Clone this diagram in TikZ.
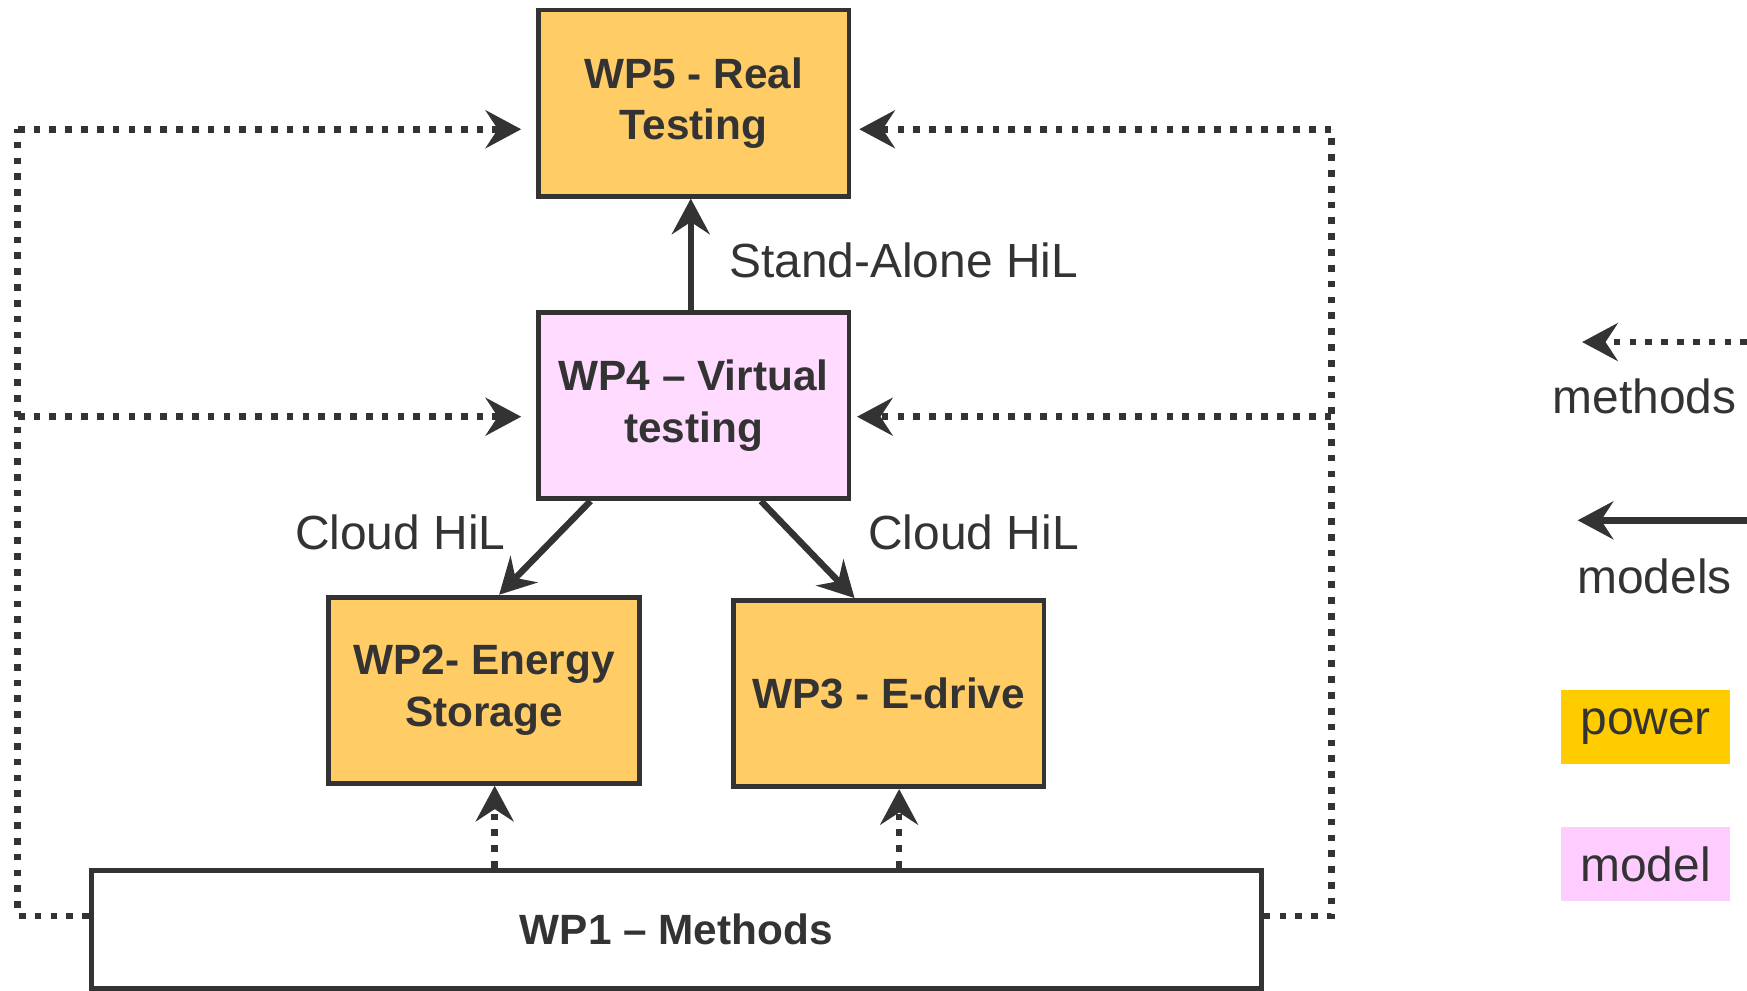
\documentclass[tikz,border=0pt]{standalone}
\usepackage{fontspec}
\setmainfont{Liberation Sans}
\usetikzlibrary{arrows.meta,calc}
\definecolor{ink}{HTML}{333333}
\definecolor{boxorange}{HTML}{FFCC66}
\definecolor{boxpink}{HTML}{FFDBFF}
\definecolor{legorange}{HTML}{FFCC00}
\definecolor{legpink}{HTML}{FFCCFF}
\tikzset{
  wpbox/.style={draw=ink, line width=2.2pt, minimum width=139.5pt, minimum height=83.5pt,
    inner sep=0pt, align=center, text=ink, font=\fontsize{19}{23}\selectfont\bfseries},
  lbl/.style={text=ink, inner sep=0pt, font=\fontsize{21.5}{25}\selectfont},
  tipA/.tip={Stealth[length=16pt,width=17pt,inset=5.5pt]},
  model/.style={draw=ink, line width=2.9pt, -tipA},
  meth/.style={draw=ink, line width=3pt, line cap=butt, dash pattern=on 3pt off 4.1pt, -tipA},
  methline/.style={draw=ink, line width=3pt, line cap=butt, dash pattern=on 3pt off 4.1pt},
  legbox/.style={minimum width=76pt, minimum height=33.5pt, inner sep=0pt, text=ink,
    font=\fontsize{21.5}{25}\selectfont}
}
\begin{document}
\begin{tikzpicture}[x=0.5pt,y=-0.5pt]
\useasboundingbox (0,0) rectangle (1568,889);
% boxes
\node[wpbox, fill=boxorange] (wp5) at (622.5,92.5) {WP5 - Real\\Testing};
\node[wpbox, fill=boxpink] (wp4) at (622.5,364) {WP4 – Virtual\\testing};
\node[wpbox, fill=boxorange] (wp2) at (434.5,619.5) {WP2- Energy\\Storage};
\node[wpbox, fill=boxorange] (wp3) at (797.5,622.5) {WP3 - E-drive};
\node[draw=ink, line width=2.2pt, fill=white, minimum width=525pt, minimum height=53pt,
  inner sep=0pt, text=ink, font=\fontsize{19}{23}\selectfont\bfseries] (wp1) at (607,834) {WP1 – Methods};
% model arrows
\draw[model] ([xshift=-1.25pt]wp4.north) -- ([xshift=-1.25pt]wp5.south);
\draw[model] ([xshift=-46.25pt]wp4.south) -- ([xshift=6.75pt]wp2.north);
\draw[model] ([xshift=30.25pt]wp4.south) -- ([xshift=-15.25pt]wp3.north);
% labels
\node[lbl, anchor=west] (sa) at (654,234) {Stand-Alone HiL};
\node[lbl, anchor=east] (c1) at (454,478) {Cloud HiL};
\node[lbl, anchor=west] (c2) at (779,478) {Cloud HiL};
% method paths
\coordinate (L1) at (16,822);
\coordinate (L4) at (16,374);
\coordinate (L5) at (16,116);
\coordinate (R1) at (1195,822);
\coordinate (R4) at (1195,374);
\coordinate (R5) at (1195,116);
\coordinate (X2) at (444,0);
\coordinate (X3) at (807,0);
\draw[methline] (wp1.west |- L1) -- (L1) -- (L5);
\draw[meth, shorten >=6.5pt] (L5) -- (wp5.west |- L5);
\draw[meth, shorten >=6.5pt] (L4) -- (wp4.west |- L4);
\draw[methline] (wp1.east |- R1) -- (R1) -- (R5);
\draw[meth, shorten >=3.5pt] (R5) -- (wp5.east |- R5);
\draw[meth, shorten >=2.5pt] (R4) -- (wp4.east |- R4);
\draw[meth] (wp1.north -| X2) -- (wp2.south -| X2);
\draw[meth] (wp1.north -| X3) -- (wp3.south -| X3);
% legend
\coordinate (m1) at (1568,307);
\coordinate (m0) at (1420,307);
\coordinate (d1) at (1568,467);
\coordinate (d0) at (1416,467);
\draw[meth] (m1) -- (m0);
\draw[model] (d1) -- (d0);
\node[lbl] (lm) at (1476,356) {methods};
\node[lbl] (ld) at (1485,517) {models};
\node[legbox, fill=legorange] (lp) at (1477,652.5) {power};
\node[legbox, fill=legpink] (lq) at (1477,775.5) {model};
\end{tikzpicture}
\end{document}
